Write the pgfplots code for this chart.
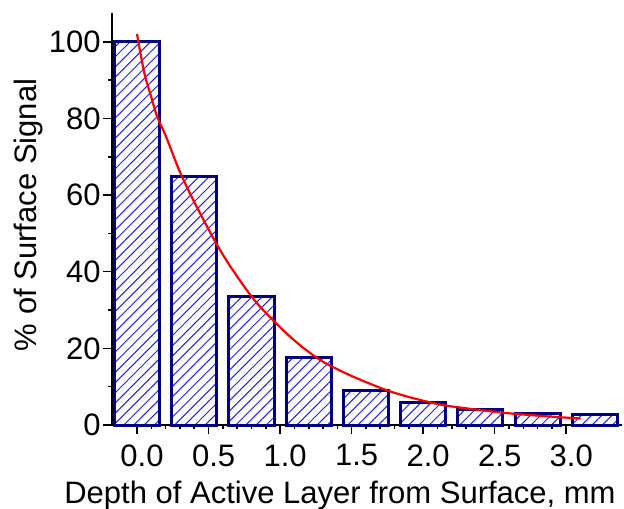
\documentclass[border=0pt]{standalone}
\usepackage{fontspec}
\setmainfont{Liberation Sans}
\usepackage{pgfplots}
\pgfplotsset{compat=1.18}
\usetikzlibrary{patterns.meta}
\definecolor{barnavy}{HTML}{000080}
\definecolor{hatch}{HTML}{2020FF}
\begin{document}
\begin{tikzpicture}
\begin{axis}[
  at={(0,0)}, anchor=south west,
  scale only axis,
  width=255pt, height=206pt,
  xmin=-0.175, xmax=3.39,
  ymin=0, ymax=107.5,
  axis lines=left,
  axis line style={-, line width=1pt, black},
  tick align=outside,
  major tick length=4.5pt,
  minor tick length=2.2pt,
  every tick/.style={black, line width=0.8pt},
  xtick={0,0.5,1,1.5,2,2.5,3},
  minor x tick num=4,
  ytick={0,20,40,60,80,100},
  minor y tick num=1,
  /pgf/number format/assume math mode=true,
  xticklabel style={/pgf/number format/fixed, /pgf/number format/fixed zerofill, /pgf/number format/precision=1},
  ticklabel style={font=\fontsize{15.5}{18}\selectfont},
  yticklabel style={inner sep=1pt},
  xticklabel style={inner sep=1pt, xshift=2.5pt, yshift=-4pt},
  label style={font=\fontsize{15.5}{18}\selectfont},
  xlabel={Depth of Active Layer from Surface, mm},
  ylabel={\% of Surface Signal},
  xlabel style={at={(axis description cs:0.447,0)}, anchor=base, yshift=-39pt, inner sep=0pt},
  ylabel style={at={(axis description cs:0,0.51)}, anchor=center, rotate=0, yshift=42pt, inner sep=0pt},
  clip=false,
]
\addplot[ybar, bar width=0.315, draw=barnavy, line width=1.5pt,
  fill=white, postaction={pattern={Lines[angle=45, distance=3.6pt, line width=0.5pt]}, pattern color=hatch}]
  coordinates {(0,100) (0.4,64.8) (0.8,33.4) (1.2,17.5) (1.6,9.0) (2.0,5.9) (2.4,4.1) (2.8,3.0) (3.2,2.7)};
\addplot[red, line width=1.1pt, smooth, no marks]
  coordinates {(0,102) (0.05,92) (0.1,85.5) (0.14,80.5) (0.2,75.5) (0.3,66) (0.4,58.2) (0.54,48.3) (0.65,41.5) (0.82,32.6) (1.0,25.5) (1.15,20.5) (1.3,16.5) (1.47,13.3) (1.6,11.2) (1.75,9.0) (1.9,7.3) (2.05,5.9) (2.17,5.0) (2.4,3.9) (2.6,3.05) (2.8,2.45) (2.97,2.0) (3.1,1.7)};
\end{axis}
\pgfresetboundingbox
\path[use as bounding box] (-56pt,-41.5pt) rectangle (256pt,212.5pt);
\end{tikzpicture}
\end{document}
